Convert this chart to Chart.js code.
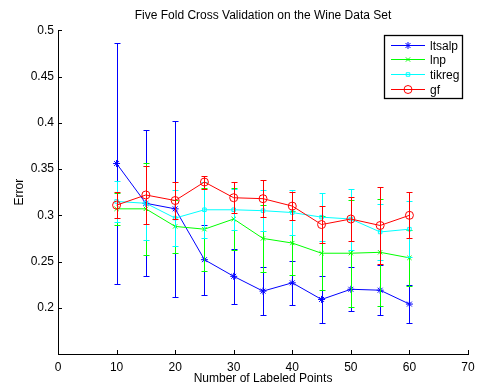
<!DOCTYPE html>
<html>
<head>
<meta charset="utf-8">
<script src="https://cdn.jsdelivr.net/npm/chart.js@4.4.0/dist/chart.umd.min.js"></script>
<style>
  html, body { margin: 0; padding: 0; background: #fff; }
  #wrap { width: 477px; height: 388px; }
</style>
</head>
<body>
<div id="wrap"><canvas id="chart"></canvas></div>
<script>
const LABELED_POINTS = [10, 15, 20, 25, 30, 35, 40, 45, 50, 55, 60];

const ltsalp    = [0.356, 0.313, 0.307, 0.252, 0.234, 0.218, 0.227, 0.209, 0.220, 0.219, 0.204];
const ltsalpErr = [0.130, 0.079, 0.095, 0.038, 0.030, 0.026, 0.024, 0.025, 0.024, 0.027, 0.021];
const lnp       = [0.307, 0.307, 0.288, 0.285, 0.296, 0.275, 0.270, 0.259, 0.259, 0.260, 0.254];
const lnpErr    = [0.017, 0.050, 0.029, 0.045, 0.034, 0.036, 0.035, 0.040, 0.058, 0.058, 0.030];
const tikreg    = [0.315, 0.313, 0.297, 0.306, 0.306, 0.305, 0.303, 0.298, 0.296, 0.282, 0.285];
const tikregErr = [0.022, 0.040, 0.030, 0.030, 0.022, 0.022, 0.024, 0.026, 0.033, 0.030, 0.030];
const gf        = [0.311, 0.322, 0.316, 0.336, 0.319, 0.318, 0.310, 0.290, 0.296, 0.289, 0.300];
const gfErr     = [0.014, 0.031, 0.020, 0.007, 0.017, 0.020, 0.015, 0.020, 0.024, 0.042, 0.025];

const X_TICKS = [0, 10, 20, 30, 40, 50, 60, 70];
const Y_TICKS = [0.2, 0.25, 0.3, 0.35, 0.4, 0.45, 0.5];

const FONT = '"Liberation Sans", Arial, Helvetica, sans-serif';

const SERIES = [
  { label: 'ltsalp', values: ltsalp, errors: ltsalpErr, color: '#0000ff', style: 'star', radius: 3.5, order: 3 },
  { label: 'lnp', values: lnp, errors: lnpErr, color: '#00ff00', style: 'crossRot', radius: 3, order: 2 },
  { label: 'tikreg', values: tikreg, errors: tikregErr, color: '#00ffff', style: 'rect', radius: 2.5, order: 1 },
  { label: 'gf', values: gf, errors: gfErr, color: '#ff0000', style: 'circle', radius: 4, order: 0 },
];

const toPoints = vals => LABELED_POINTS.map((x, i) => ({ x, y: vals[i] }));
const crisp = v => Math.round(v) + 0.5;

// error bars drawn right after each dataset so the stacking order matches
const errorBars = {
  id: 'errorBars',
  afterDatasetDraw(chart, args) {
    const s = SERIES[args.index];
    const { ctx, scales: { x, y } } = chart;
    ctx.save();
    ctx.strokeStyle = s.color;
    ctx.lineWidth = 1;
    ctx.beginPath();
    LABELED_POINTS.forEach((xv, i) => {
      const px = crisp(x.getPixelForValue(xv));
      const top = crisp(y.getPixelForValue(s.values[i] + s.errors[i]));
      const bot = crisp(y.getPixelForValue(s.values[i] - s.errors[i]));
      ctx.moveTo(px, top); ctx.lineTo(px, bot);
      ctx.moveTo(px - 3, top); ctx.lineTo(px + 3, top);
      ctx.moveTo(px - 3, bot); ctx.lineTo(px + 3, bot);
    });
    ctx.stroke();
    ctx.restore();
  }
};

// MATLAB-style inward ticks + legend box
const matlabDecor = {
  id: 'matlabDecor',
  afterDraw(chart) {
    const { ctx, chartArea: a, scales: { x, y } } = chart;
    ctx.save();
    ctx.strokeStyle = '#000';
    ctx.lineWidth = 1;
    ctx.beginPath();
    X_TICKS.forEach(v => {
      const px = crisp(x.getPixelForValue(v));
      ctx.moveTo(px, a.bottom); ctx.lineTo(px, a.bottom - 4);
    });
    Y_TICKS.forEach(v => {
      const py = crisp(y.getPixelForValue(v));
      ctx.moveTo(a.left, py); ctx.lineTo(a.left + 4, py);
    });
    ctx.stroke();

    // legend
    const lx = 384, ly = 35, lw = 78, lh = 63;
    ctx.fillStyle = '#fff';
    ctx.fillRect(lx, ly, lw, lh);
    ctx.lineWidth = 1.3;
    ctx.strokeStyle = '#000';
    ctx.strokeRect(lx + 0.5, ly + 0.5, lw, lh);
    ctx.font = '12px ' + FONT;
    ctx.textBaseline = 'middle';
    SERIES.forEach((s, i) => {
      const cy = crisp(ly + 9.5 + i * 14.8);
      ctx.strokeStyle = s.color;
      ctx.fillStyle = 'rgba(0,0,0,0)';
      ctx.lineWidth = 1;
      ctx.beginPath();
      ctx.moveTo(lx + 7, cy); ctx.lineTo(lx + 41, cy);
      ctx.stroke();
      Chart.helpers.drawPoint(ctx, { pointStyle: s.style, radius: s.radius, borderWidth: 1 }, lx + 24, cy);
      ctx.fillStyle = '#000';
      ctx.fillText(s.label, lx + 46, cy + 1);
    });
    ctx.restore();
  }
};

new Chart(document.getElementById('chart'), {
  type: 'line',
  data: {
    datasets: SERIES.map(s => ({
      label: s.label,
      data: toPoints(s.values),
      borderColor: s.color,
      backgroundColor: 'transparent',
      borderWidth: 1,
      pointStyle: s.style,
      pointRadius: s.radius,
      pointBorderColor: s.color,
      pointBackgroundColor: 'transparent',
      pointBorderWidth: 1,
      tension: 0,
      fill: false,
      order: s.order
    }))
  },
  options: {
    responsive: true, maintainAspectRatio: false, animation: false,
    layout: { padding: { left: 0, right: 9, top: 0, bottom: 0 } },
    plugins: {
      legend: { display: false },
      tooltip: { enabled: false },
      title: {
        display: true, fullSize: false,
        text: 'Five Fold Cross Validation on the Wine Data Set',
        color: '#000', font: { family: FONT, size: 12, weight: 'normal' },
        padding: { top: 8, bottom: 8 }
      }
    },
    scales: {
      x: {
        type: 'linear', min: 0, max: 70,
        afterBuildTicks: sc => { sc.ticks = X_TICKS.map(v => ({ value: v })); },
        afterFit: sc => { sc.height = 34; sc.paddingLeft = 0; sc.paddingRight = 0; },
        grid: { display: false, drawTicks: false },
        border: { display: true, color: '#000', width: 1 },
        ticks: { color: '#000', padding: 6, font: { family: FONT, size: 12 }, maxRotation: 0 },
        title: { display: true, text: 'Number of Labeled Points', color: '#000',
          font: { family: FONT, size: 12 }, padding: { top: 0, bottom: 2 } }
      },
      y: {
        type: 'linear', min: 0.15, max: 0.5,
        afterBuildTicks: sc => { sc.ticks = Y_TICKS.map(v => ({ value: v })); },
        afterFit: sc => { sc.width = 58; },
        grid: { display: false, drawTicks: false },
        border: { display: true, color: '#000', width: 1 },
        ticks: { color: '#000', padding: 4, font: { family: FONT, size: 12 },
          callback: v => String(Math.round(v * 100) / 100) },
        title: { display: true, text: 'Error', color: '#000',
          font: { family: FONT, size: 12 }, padding: { top: 12, bottom: 0 } }
      }
    }
  },
  plugins: [errorBars, matlabDecor]
});
</script>
</body>
</html>
